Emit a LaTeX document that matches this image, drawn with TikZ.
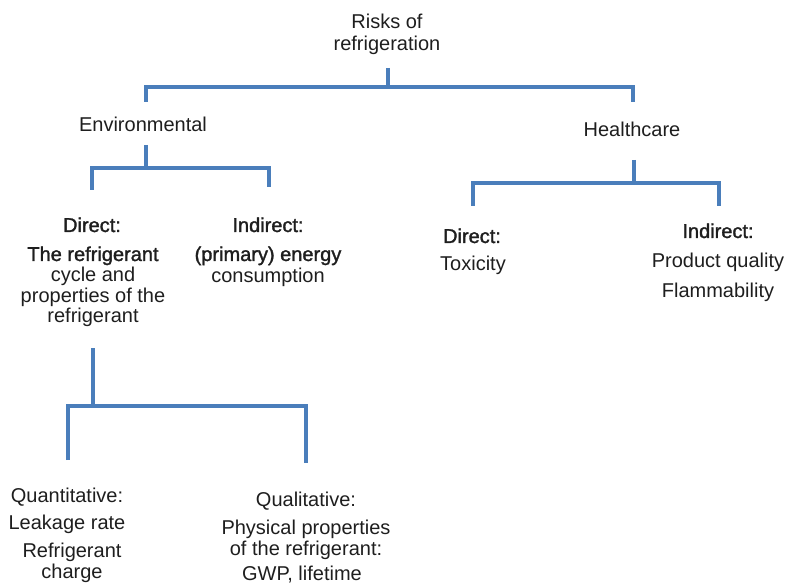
\documentclass[tikz,border=0pt]{standalone}
\usepackage{fontspec}
\setmainfont{Liberation Sans}
\newfontfamily\fbold[FakeBold=1.5]{Liberation Sans}
\definecolor{conncol}{HTML}{4A7EBB}
\definecolor{txt}{HTML}{1E1E1E}
\begin{document}
\begin{tikzpicture}[x=1pt,y=-1pt,
  lbl/.style={anchor=base,inner sep=0pt,text=txt,font=\fontsize{20}{22}\selectfont},
  blbl/.style={lbl,font=\fontsize{20}{22}\selectfont\fbold},
  conn/.style={draw=conncol,line width=3.1pt,line cap=butt,line join=miter}]
\useasboundingbox (0,0) rectangle (789,585);
% texts
\node[lbl] (root1) at (387,29) {Risks of};
\node[lbl] (root) at (387,51) {refrigeration};
\node[lbl] (env) at (143,132) {Environmental};
\node[lbl] (hc) at (632,137) {Healthcare};
\node[blbl] (ed) at (92,232) {Direct:};
\node[blbl] (ed1) at (93,261) {The refrigerant};
\node[lbl] (ed2) at (93,281.5) {cycle and};
\node[lbl] (ed3) at (93,302) {properties of the};
\node[lbl] (ed4) at (93,322.5) {refrigerant};
\node[blbl] (ei) at (268,232) {Indirect:};
\node[blbl] (ei1) at (268,261) {(primary) energy};
\node[lbl] (ei2) at (268,282) {consumption};
\node[blbl] (hd) at (472,243) {Direct:};
\node[lbl] (hd1) at (473,270) {Toxicity};
\node[blbl] (hi) at (718,238) {Indirect:};
\node[lbl] (hi1) at (718,267) {Product quality};
\node[lbl] (hi2) at (718,297) {Flammability};
\node[lbl] (qn) at (67,502) {Quantitative:};
\node[lbl] (qn1) at (67,529) {Leakage rate};
\node[lbl] (qn2) at (72,557) {Refrigerant};
\node[lbl] (qn3) at (72,578) {charge};
\node[lbl] (ql) at (306,506) {Qualitative:};
\node[lbl] (ql1) at (306,534) {Physical properties};
\node[lbl] (ql2) at (306,555) {of the refrigerant:};
\node[lbl] (ql3) at (302,580) {GWP, lifetime};
% tree geometry
\coordinate (r-top) at (388,68);
\coordinate (r-j) at (388,87);
\coordinate (env-in) at (146,102);
\coordinate (hc-in) at (633,102);
\coordinate (env-out) at (146,145);
\coordinate (env-j) at (146,168);
\coordinate (ed-in) at (92,190);
\coordinate (ei-in) at (269,187);
\coordinate (hc-out) at (634,160);
\coordinate (hc-j) at (634,183);
\coordinate (hd-in) at (473,206);
\coordinate (hi-in) at (719,206);
\coordinate (ed-out) at (93,348);
\coordinate (ed-j) at (93,406);
\coordinate (qn-in) at (68,460);
\coordinate (ql-in) at (306,463);
% connectors
\draw[conn] (r-top) -- (r-j);
\draw[conn] (env-in) |- (r-j) -| (hc-in);
\draw[conn] (env-out) -- (env-j);
\draw[conn] (ed-in) |- (env-j) -| (ei-in);
\draw[conn] (hc-out) -- (hc-j);
\draw[conn] (hd-in) |- (hc-j) -| (hi-in);
\draw[conn] (ed-out) -- (ed-j);
\draw[conn] (qn-in) |- (ed-j) -| (ql-in);
\end{tikzpicture}
\end{document}
